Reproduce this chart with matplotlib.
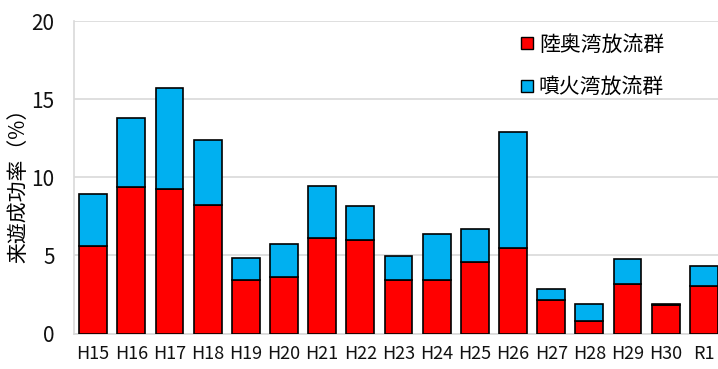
import numpy as np
import matplotlib
matplotlib.use('Agg')
import matplotlib.pyplot as plt
import matplotlib.patches as patches

plt.rcParams['font.family'] = ['Noto Sans CJK JP', 'DejaVu Sans']

years = ['H15', 'H16', 'H17', 'H18', 'H19', 'H20', 'H21', 'H22', 'H23',
         'H24', 'H25', 'H26', 'H27', 'H28', 'H29', 'H30', 'R1']
# 陸奥湾放流群 (bottom) and 噴火湾放流群 (stacked on top), %
mutsu = [5.6, 9.35, 9.25, 8.2, 3.4, 3.6, 6.1, 6.0, 3.45, 3.4, 4.6, 5.5,
         2.15, 0.77, 3.2, 1.83, 3.07]
funka = [3.3, 4.45, 6.45, 4.2, 1.45, 2.15, 3.35, 2.15, 1.5, 2.95, 2.1, 7.4,
         0.67, 1.1, 1.6, 0.07, 1.23]
series_names = ['陸奥湾放流群', '噴火湾放流群']
yticks = [0, 5, 10, 15, 20]

red = '#ff0000'
blue = '#00b0f0'

fig = plt.figure(figsize=(7.18, 3.69), dpi=100)
ax = fig.add_axes([74 / 718, 1 - 333.5 / 369, 649 / 718, 312.5 / 369])

x = np.arange(len(years))
ax.bar(x, mutsu, width=0.73, color=red, edgecolor='black', linewidth=1.2, zorder=3)
ax.bar(x, funka, width=0.73, bottom=mutsu, color=blue, edgecolor='black',
       linewidth=1.2, zorder=3)

ax.set_xlim(-0.5, len(years) - 0.5)
ax.set_ylim(0, 20)
ax.set_yticks(yticks)
ax.set_xticks(x)
ax.set_xticklabels(years)
ax.tick_params(axis='x', length=0, labelsize=13, colors='#111111', pad=8)
ax.tick_params(axis='y', length=0, labelsize=15, colors='#111111', pad=14)
ax.grid(axis='y', color='#d9d9d9', linewidth=1.2, zorder=0)

for side in ['top', 'right']:
    ax.spines[side].set_visible(False)
ax.spines['left'].set_color('#d9d9d9')
ax.spines['bottom'].set_color('#d9d9d9')
ax.spines['left'].set_linewidth(1.2)
ax.spines['bottom'].set_linewidth(1.2)

ax.set_ylabel('来遊成功率（%）', fontsize=15)
ax.yaxis.set_label_coords(-0.069, 0.49)

handles = [patches.Patch(facecolor=red, edgecolor='black', linewidth=1),
           patches.Patch(facecolor=blue, edgecolor='black', linewidth=1)]
ax.legend(handles, series_names, loc='upper left', bbox_to_anchor=(0.66, 1.02),
          frameon=False, fontsize=15, handlelength=0.55, handleheight=0.55,
          handletextpad=0.3, labelspacing=1.0)

fig.savefig('out.png', dpi=100)
